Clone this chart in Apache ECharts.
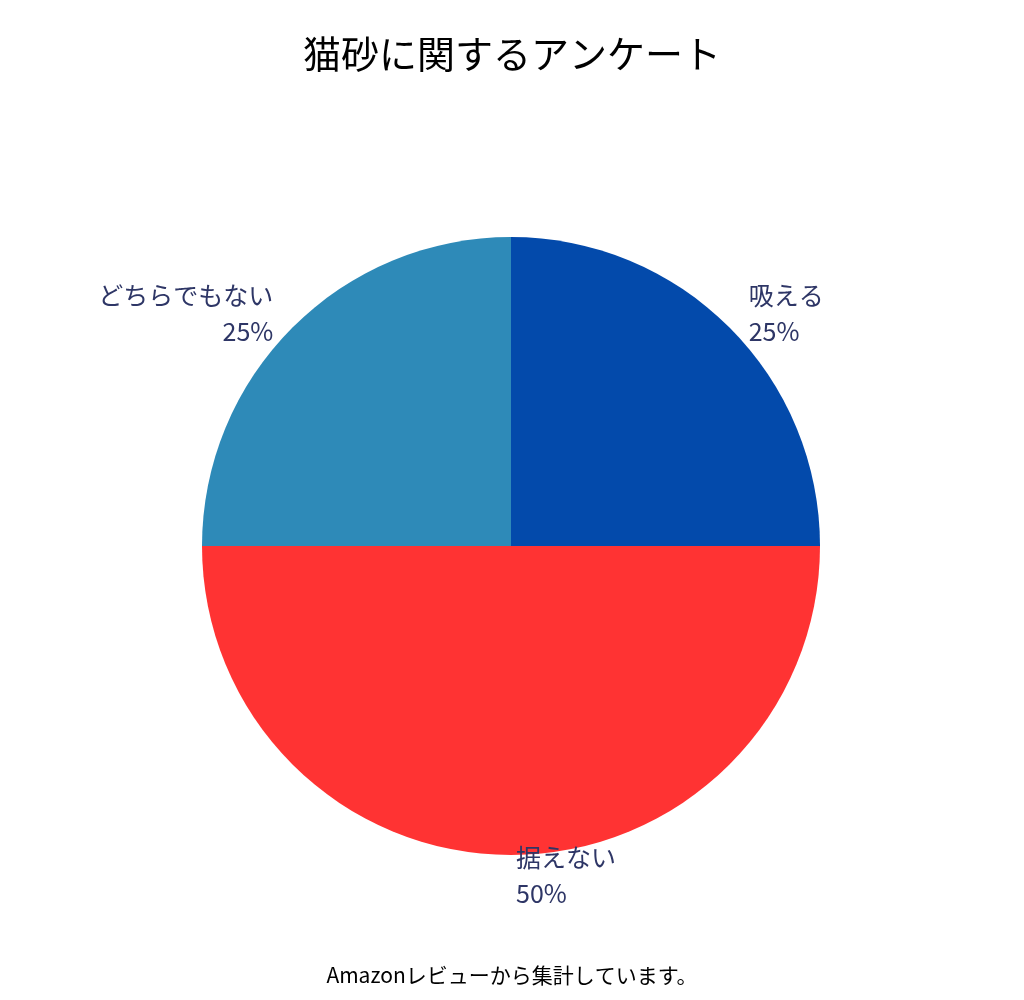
<!DOCTYPE html>
<html><head><meta charset="utf-8">
<script src="https://cdn.jsdelivr.net/npm/echarts@6/dist/echarts.min.js"></script>
<style>html,body{margin:0;background:#fff}#c{width:1024px;height:1000px}</style>
</head><body><div id="c"></div>
<script>
const categories = ['吸える', '据えない', 'どちらでもない'];
const values = [25, 50, 25];
const colors = ['#034AAB', '#FF3333', '#2E8AB8'];
const chart = echarts.init(document.getElementById('c'));
chart.setOption({
  animation: false,
  textStyle: { fontFamily: 'Noto Sans CJK JP' },
  title: [{
    text: '猫砂に関するアンケート', left: 'center', top: 30,
    textStyle: { fontSize: 38, fontWeight: 'normal', color: '#000', fontFamily: 'Noto Sans CJK JP' }
  }, {
    text: 'Amazonレビューから集計しています。', left: 'center', top: 960,
    textStyle: { fontSize: 21, fontWeight: 'normal', color: '#000', fontFamily: 'Noto Sans CJK JP' }
  }],
  series: [{
    type: 'pie', center: [511, 546], radius: 309, startAngle: 90,
    data: categories.map((c, i) => ({ name: c, value: values[i], itemStyle: { color: colors[i] } })),
    label: { show: true, position: 'outside', formatter: '{b}\n{d}%', fontSize: 25, lineHeight: 36,
      color: '#2E3666', align: 'center', fontFamily: 'Noto Sans CJK JP' },
    labelLine: { show: false, length: 20, length2: 0 },
    emphasis: { disabled: true }
  }]
});
</script></body></html>
